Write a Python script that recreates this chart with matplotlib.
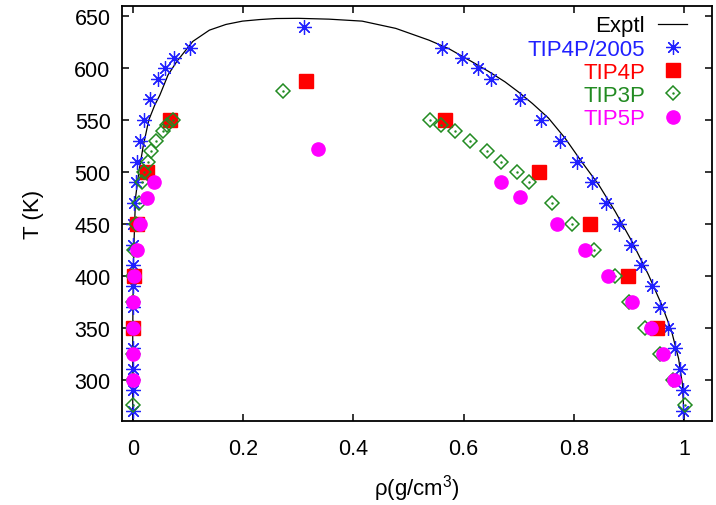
import matplotlib.pyplot as plt

plt.rcParams['font.family'] = ['Liberation Sans', 'DejaVu Sans']
plt.rcParams['mathtext.fontset'] = 'custom'
plt.rcParams['mathtext.rm'] = 'Liberation Sans'
plt.rcParams['mathtext.it'] = 'Liberation Sans:italic'

exptl_rho = [0.0, 0.0, 0.0015, 0.005, 0.011, 0.019, 0.029, 0.040, 0.049, 0.064, 0.080,
             0.109, 0.139, 0.169, 0.199, 0.23, 0.26, 0.30, 0.356, 0.416, 0.477, 0.537,
             0.573, 0.615, 0.646, 0.675, 0.70, 0.725, 0.754, 0.784, 0.814, 0.845, 0.875,
             0.905, 0.935, 0.959, 0.977, 0.99, 0.997, 0.999, 0.999]
exptl_T = [250, 350, 420, 475, 500, 525, 550, 564.7, 574, 593.6, 606.7,
           626, 636.8, 642.3, 645.5, 647, 648, 648.2, 647.4, 645.5, 638.5, 627.2,
           619, 606.4, 596.8, 587, 577, 566, 552, 532.7, 510, 487.8, 462,
           433.4, 401.3, 372.4, 347, 320, 295, 273, 250]

# TIP4P/2005
t2005_T = [270, 290, 310, 330, 350, 370, 390, 410, 430, 450, 470, 490, 510,
           530, 550, 570, 590, 600, 610, 620, 640,
           620, 610, 600, 590, 570, 550, 530, 510, 490, 470,
           450, 430, 410, 390, 370, 350, 330, 310, 290, 270]
t2005_rho = [0.0, 0.0, 0.0, 0.0, 0.0, 0.0, 0.0, 0.0, 0.0005, 0.001, 0.002, 0.005, 0.0085,
             0.014, 0.020, 0.032, 0.046, 0.059, 0.075, 0.103, 0.31,
             0.560, 0.597, 0.627, 0.649, 0.702, 0.740, 0.774, 0.806, 0.832, 0.859,
             0.881, 0.904, 0.922, 0.942, 0.956, 0.971, 0.983, 0.992, 0.998, 0.998]

# TIP4P
tip4p_T = [350, 400, 450, 500, 550, 588, 550, 500, 450, 400, 350]
tip4p_rho = [0.0, 0.002, 0.007, 0.025, 0.068, 0.314, 0.567, 0.737, 0.829, 0.899, 0.950]

# TIP3P
tip3p_T = [275, 300, 325, 350, 375, 400, 425, 450, 470, 490, 500, 510, 520, 530, 540, 545, 550,
           578,
           550, 545, 540, 530, 520, 510, 500, 490, 470, 450, 425, 400, 375, 350, 325, 300, 275]
tip3p_rho = [0.0, 0.0, 0.0, 0.0, 0.0, 0.001, 0.003, 0.005, 0.012, 0.017, 0.020, 0.027, 0.034,
             0.043, 0.054, 0.063, 0.073,
             0.272,
             0.540, 0.559, 0.584, 0.612, 0.643, 0.667, 0.697, 0.718, 0.760, 0.797, 0.837,
             0.875, 0.900, 0.929, 0.956, 0.980, 1.002]

# TIP5P
tip5p_T = [300, 325, 350, 375, 400, 425, 450, 475, 490, 522,
           490, 476, 450, 425, 400, 375, 350, 325, 300]
tip5p_rho = [0.0, 0.0, 0.0, 0.0, 0.002, 0.007, 0.013, 0.025, 0.039, 0.336,
             0.668, 0.702, 0.769, 0.820, 0.862, 0.906, 0.940, 0.962, 0.982]

fig = plt.figure(figsize=(7.16, 5.06), dpi=100)
ax = fig.add_axes([0.170, 0.166, 0.824, 0.820])

l0, = ax.plot(exptl_rho, exptl_T, color='black', lw=0.9)
l1, = ax.plot(t2005_rho, t2005_T, ls='none', marker=(8, 2, 0), ms=10.5,
              mec='#2020ff', mew=0.9)
l2, = ax.plot(tip4p_rho, tip4p_T, ls='none', marker='s', ms=9.5,
              mfc='#ff0000', mec='#ff0000')
l3, = ax.plot(tip3p_rho, tip3p_T, ls='none', marker='D', ms=7.5,
              mfc='none', mec='#228b22', mew=1.1)
l3b, = ax.plot(tip3p_rho, tip3p_T, ls='none', marker='.', ms=1.5, color='#228b22')
l4, = ax.plot(tip5p_rho, tip5p_T, ls='none', marker='o', ms=9.5,
              mfc='#ff00ff', mec='#ff00ff')

ax.set_xlim(-0.02, 1.05)
ax.set_ylim(260, 660)
ax.set_xticks([0, 0.2, 0.4, 0.6, 0.8, 1])
ax.set_xticklabels(['0', '0.2', '0.4', '0.6', '0.8', '1'])
ax.set_yticks(range(300, 651, 50))
ax.tick_params(direction='in', length=5, width=1.1, labelsize=15.5,
               top=True, right=True, pad=8)
ax.tick_params(axis='x', pad=12)
for s in ax.spines.values():
    s.set_linewidth(1.3)

ax.set_xlabel(r'ρ(g/cm$^3$)', fontsize=16, labelpad=10)
ax.set_ylabel('T (K)', fontsize=16, labelpad=22)

leg = ax.legend([l0, l1, l2, (l3, l3b), l4],
                ['Exptl', 'TIP4P/2005', 'TIP4P', 'TIP3P', 'TIP5P'],
                loc='upper right', bbox_to_anchor=(0.985, 1.015), frameon=False,
                markerfirst=False, fontsize=16, labelspacing=0.1,
                handlelength=1.3, handletextpad=0.6, borderpad=0.2)
for t, c in zip(leg.get_texts(), ['black', '#2020ff', '#ff0000', '#228b22', '#ff00ff']):
    t.set_color(c)

fig.savefig('out.png', dpi=100)
